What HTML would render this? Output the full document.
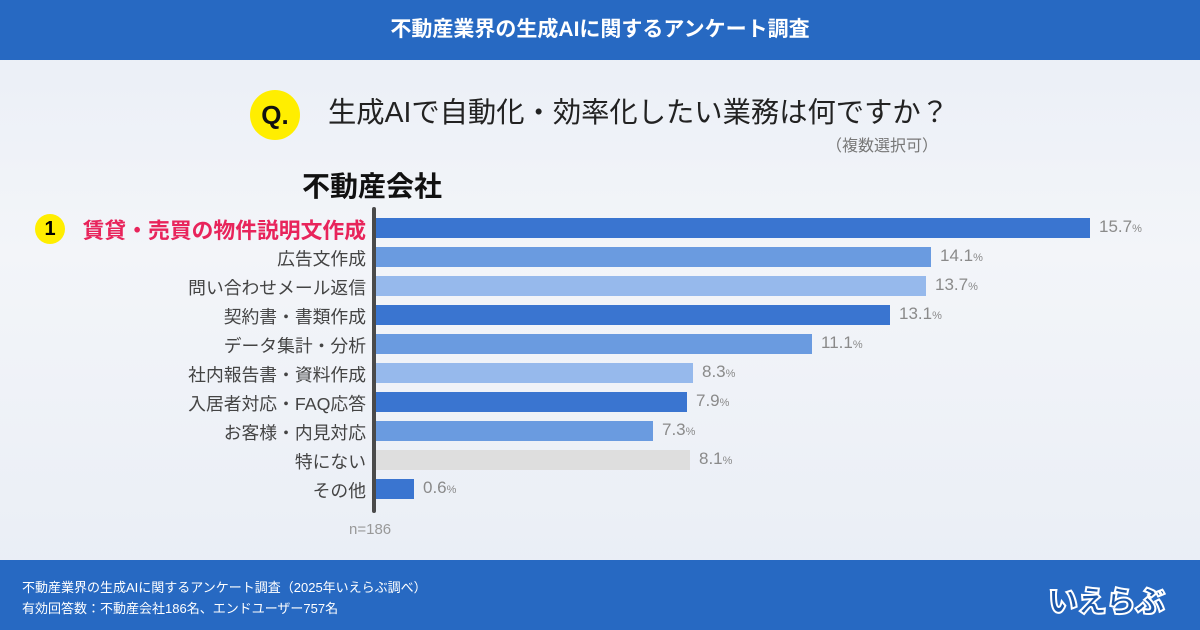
<!DOCTYPE html>
<html><head><meta charset="utf-8"><style>
*{margin:0;padding:0;box-sizing:border-box}
body{width:1200px;height:630px;overflow:hidden;font-family:"Liberation Sans","Noto Sans CJK JP",sans-serif;background:linear-gradient(180deg,#e9eef6,#f3f5f9 40%,#e8edf5);position:relative}
.hdr{position:absolute;left:0;top:0;width:1200px;height:60px;background:#2769c2;color:#fff;font-weight:bold;font-size:21px;text-align:center;line-height:60px}
.ftr{position:absolute;left:0;top:560px;width:1200px;height:70px;background:#2769c2;color:#fff;font-size:13px}
.q{position:absolute;left:250px;top:90px;width:50px;height:50px;border-radius:50%;background:#ffee00;font-weight:bold;font-size:26px;text-align:center;line-height:50px;color:#111}
.qt{position:absolute;left:328px;top:90px;font-size:28.3px;color:#222;white-space:nowrap}
.sub{position:absolute;left:826px;top:132px;font-size:16px;color:#777}
.ttl{position:absolute;left:302px;top:165px;font-size:28px;font-weight:bold;color:#111}
.axis{position:absolute;left:372px;top:207px;width:4px;height:306px;background:#4a4a4a;border-radius:2px}
.bar{position:absolute;left:376px;height:20px}
.lb{position:absolute;right:834px;font-size:17.8px;color:#444;white-space:nowrap}
.v{position:absolute;font-size:17px;color:#8a8a8a}
.v small{font-size:11px}
</style></head><body>
<div class="hdr">不動産業界の生成AIに関するアンケート調査</div>
<div class="q">Q.</div>
<div class="qt">生成AIで自動化・効率化したい業務は何ですか？</div>
<div class="sub">（複数選択可）</div>
<div class="ttl">不動産会社</div>
<div class="axis"></div>
<div style="position:absolute;left:35px;top:214px;width:30px;height:30px;border-radius:50%;background:#ffee00;font-weight:bold;font-size:20px;text-align:center;line-height:30px">1</div>
<div class="lb" style="top:214px;color:#e8245b;font-size:21.8px;font-weight:bold">賃貸・売買の物件説明文作成</div>
<div class="bar" style="top:218px;width:714px;background:#3a75d0"></div><div class="v" style="left:1099px;top:217px">15.7<small>%</small></div>
<div class="lb" style="top:245px">広告文作成</div>
<div class="bar" style="top:247px;width:555px;background:#6a9be0"></div><div class="v" style="left:940px;top:246px">14.1<small>%</small></div>
<div class="lb" style="top:274px">問い合わせメール返信</div>
<div class="bar" style="top:276px;width:550px;background:#96b9ec"></div><div class="v" style="left:935px;top:275px">13.7<small>%</small></div>
<div class="lb" style="top:303px">契約書・書類作成</div>
<div class="bar" style="top:305px;width:514px;background:#3a75d0"></div><div class="v" style="left:899px;top:304px">13.1<small>%</small></div>
<div class="lb" style="top:332px">データ集計・分析</div>
<div class="bar" style="top:334px;width:436px;background:#6a9be0"></div><div class="v" style="left:821px;top:333px">11.1<small>%</small></div>
<div class="lb" style="top:361px">社内報告書・資料作成</div>
<div class="bar" style="top:363px;width:317px;background:#96b9ec"></div><div class="v" style="left:702px;top:362px">8.3<small>%</small></div>
<div class="lb" style="top:390px">入居者対応・FAQ応答</div>
<div class="bar" style="top:392px;width:311px;background:#3a75d0"></div><div class="v" style="left:696px;top:391px">7.9<small>%</small></div>
<div class="lb" style="top:419px">お客様・内見対応</div>
<div class="bar" style="top:421px;width:277px;background:#6a9be0"></div><div class="v" style="left:662px;top:420px">7.3<small>%</small></div>
<div class="lb" style="top:448px">特にない</div>
<div class="bar" style="top:450px;width:314px;background:#dedede"></div><div class="v" style="left:699px;top:449px">8.1<small>%</small></div>
<div class="lb" style="top:477px">その他</div>
<div class="bar" style="top:479px;width:38px;background:#3a75d0"></div><div class="v" style="left:423px;top:478px">0.6<small>%</small></div>
<div style="position:absolute;left:349px;top:521px;font-size:15px;color:#999">n=186</div>
<div class="ftr">
<div style="position:absolute;left:22px;top:17px">不動産業界の生成AIに関するアンケート調査（2025年いえらぶ調べ）</div>
<div style="position:absolute;left:22px;top:38px">有効回答数：不動産会社186名、エンドユーザー757名</div>
<div style="position:absolute;left:1048px;top:17px;font-size:30px;font-weight:900;color:#1a56a8;-webkit-text-stroke:2px #fff;letter-spacing:-1px">いえらぶ</div>
</div>
</body></html>
